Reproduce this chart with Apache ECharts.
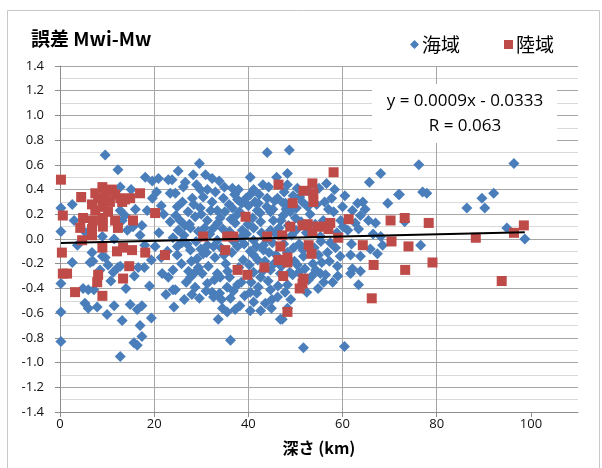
<!DOCTYPE html>
<html>
<head>
<meta charset="utf-8">
<script src="https://cdn.jsdelivr.net/npm/echarts@6/dist/echarts.min.js"></script>
<style>
  html, body { margin: 0; padding: 0; background: #fff; }
  #chart { width: 602px; height: 468px; }
</style>
</head>
<body>
<div id="chart"></div>
<script>
// Depth (km) vs. magnitude error Mwi - Mw, split by offshore (海域) and inland (陸域) events
const seaPoints = [
  [0.2,0.25],[0.2,0.06],[0.2,-0.36],[0.2,-0.59],[0.2,-0.83],
  [2.6,0.28],[3.7,-0.05],[6.8,-0.11],[9,0.02],[9.6,0.68],[12.3,0.56],[12.8,0.42],[15.1,0.40],
  [12.8,0.23],[13.8,0.19],[13.2,0.15],[17.4,0.11],[14.3,0.07],[15.5,0.10],[17,0.03],[18.1,0.50],
  [19.6,0.47],[20.9,0.49],[23,0.48],[23.4,0.37],[19.6,0.33],[18.5,0.23],[23.4,0.14],[20.2,-0.06],
  [22.8,-0.10],[9,-0.14],[2.6,-0.19],[6.4,-0.19],[7,-0.18],[9.6,-0.15],[10.2,-0.21],[11.3,-0.27],
  [12.3,-0.23],[12.8,-0.22],[16.6,-0.23],[17.9,-0.23],[19.4,-0.17],[21.7,-0.28],[23,-0.31],
  [4.9,-0.40],[6,-0.41],[7.2,-0.41],[24,-0.41],[5.3,-0.52],[6,-0.56],[7.9,-0.55],[11.5,-0.54],
  [14.9,-0.53],[16.4,-0.57],[17.4,-0.54],[10,-0.61],[19.4,-0.64],[13.2,-0.66],[17,-0.70],
  [17.4,-0.79],[15.7,-0.84],[16.4,-0.86],[12.8,-0.95],
  [15.8,-0.30],[14,-0.40],[10.8,-0.34],[8.5,-0.25],[5.5,0.05],[3,0.15],[11.5,0.00],[16,0.24],
  [21.5,0.27],[24.2,-0.55],[21,0.05],[22,0.20],[21.5,-0.15],[20.5,0.38],[22.5,-0.45],[19,-0.38],[18,-0.05],
  [44,0.70],[29.6,0.61],[25.1,0.55],[23.8,0.48],[28.3,0.52],[30.9,0.52],[26.6,0.46],[26.2,0.42],
  [32.3,0.49],[33.8,0.47],[40.4,0.50],[46,0.50],[48.3,0.53],[29.8,0.40],[31.3,0.40],[36.6,0.41],
  [37.9,0.40],[41.1,0.40],[44.3,0.42],[24.5,0.37],[28.1,0.33],[30.4,0.34],[32.3,0.30],[34.7,0.33],
  [37.7,0.32],[40.4,0.36],[42.1,0.29],[46.2,0.33],[47.9,0.29],[24.9,0.26],[27.2,0.22],[29.8,0.25],
  [33.4,0.23],[36.6,0.25],[41.9,0.23],[44.7,0.22],[47.4,0.19],[25.5,0.15],[28.7,0.18],[31.3,0.15],
  [34,0.17],[37.2,0.13],[42.6,0.14],[45.3,0.15],[48.5,0.11],[25.1,0.07],[27.7,0.09],[29.4,0.06],
  [32.6,0.09],[38.7,0.07],[41.1,0.09],[44.7,0.07],[24,0.01],[26.2,-0.01],[33.4,-0.01],[38.3,0.01],
  [41.1,-0.01],[24.9,-0.06],[27.7,-0.09],[31.3,-0.05],[37.7,-0.06],[40.4,-0.10],[43.2,-0.05],
  [48.3,-0.11],[24.9,-0.13],[27,-0.04],[29.1,-0.16],[30.4,-0.12],[32.6,-0.06],[36.5,-0.11],
  [41.1,-0.13],[43.2,-0.09],[24,-0.25],[27.7,-0.31],[28.7,-0.27],[29.4,-0.23],[33.4,-0.28],
  [34,-0.31],[41.1,-0.27],[42.6,-0.31],[44.7,-0.25],[46.8,-0.28],[24.5,-0.41],[28.7,-0.39],
  [31.3,-0.36],[32.3,-0.43],[35.5,-0.39],[37.7,-0.37],[40.4,-0.43],[42.1,-0.39],[44.7,-0.41],
  [46.2,-0.47],[26.4,-0.49],[32.6,-0.47],[36.2,-0.48],[41.1,-0.51],[43.6,-0.52],[34.5,-0.56],
  [35.5,-0.59],[37.2,-0.57],[40.4,-0.58],[42.6,-0.58],[46.8,-0.65],[33.6,-0.65],[36.2,-0.82],
  [26,0.30],[27.5,0.12],[28.9,-0.02],[30,0.20],[31.8,0.04],[32.9,-0.15],[33,0.38],[34.6,0.08],
  [35.2,-0.20],[35.9,0.28],[36.3,0.16],[36.9,-0.02],[38.1,0.22],[38.9,-0.17],[39.5,0.33],[39.6,0.04],
  [40.2,-0.21],[40.9,0.17],[41.7,-0.06],[42.3,0.36],[42.8,0.05],[43.5,-0.18],[43.9,0.26],[44.2,-0.34],
  [45.1,-0.03],[45.6,0.31],[45.9,-0.13],[46.5,0.09],[47,-0.22],[47.6,0.38],[49.2,0.03],[49.8,-0.18],
  [50.2,0.25],[50.8,-0.04],[51.2,0.14],[52,-0.24],[52.3,0.05],[53.1,0.20],[54,-0.07],[54.5,0.28],
  [55.6,-0.19],[55.9,0.15],[56.8,-0.11],[57.7,0.33],[58.8,0.05],[59.5,-0.14],[60.5,0.35],[61.9,-0.04],
  [62.7,0.13],[64.8,0.24],[65.9,-0.08],[66.5,0.04],[25.8,-0.20],[26.8,-0.35],[28,-0.45],[30.2,-0.28],
  [31,-0.42],[33.9,-0.44],[34.8,-0.13],[36,-0.31],[38.5,-0.35],[39.2,-0.46],[41.8,-0.44],[43,-0.26],
  [45,-0.49],[45.4,-0.20],[47.8,-0.43],[49,-0.49],[50.7,-0.27],[53.5,-0.30],[54.8,-0.40],[56,-0.35],
  [24.6,0.19],[25.9,-0.03],[26.5,0.11],[27.9,-0.18],[28.4,0.28],[29,0.44],[29.9,-0.08],[30.7,0.09],
  [31.5,-0.22],[32,0.23],[32.8,-0.33],[33.5,0.13],[34.2,-0.07],[34.9,0.42],[35.6,-0.26],[36,0.06],
  [36.8,-0.42],[37.4,0.19],[38,-0.23],[38.6,0.29],[39.1,-0.04],[39.9,0.12],[40.6,-0.35],[41.4,0.30],
  [42,-0.17],[42.5,0.21],[43.1,0.44],[43.7,0.00],[44.4,-0.11],[45.2,0.24],[45.8,0.04],[46.3,-0.38],
  [46.9,0.15],[47.5,-0.04],[48,0.24],[48.8,-0.27],[49.5,0.35],[50.1,0.07],[50.9,0.34],[51.6,-0.09],
  [52.4,-0.43],[53,0.38],[53.7,-0.20],[54.2,0.12],[55,0.41],[55.4,-0.02],[56.2,0.30],[57.2,-0.18],
  [58.3,0.40],[59,-0.30],[60.1,0.10],[26.3,0.03],[31.1,-0.11],[35,0.22],[37.1,0.36],[40,0.27],
  [44,0.33],[27.3,-0.26],[29.6,-0.48],[38.2,-0.54],[44.9,-0.56],[34.3,-0.49],
  [48.7,0.72],[68.1,0.53],[65.7,0.46],[56.6,0.45],[48.3,0.44],[50.4,0.41],[71.9,0.36],[51.5,0.30],
  [47.4,0.29],[52.6,0.26],[64.3,0.30],[63.2,0.29],[69.6,0.29],[60,0.26],[57,0.24],[58.1,0.22],
  [48.9,0.22],[62.1,0.23],[63.8,0.19],[65.5,0.15],[67,0.13],[59.6,0.15],[50,0.17],[61.1,0.07],
  [63.4,0.08],[55.3,0.02],[68.1,0.02],[57.4,-0.03],[58.5,-0.07],[54.9,-0.13],[61.7,-0.13],
  [63.8,-0.14],[67.4,-0.12],[49.6,-0.07],[68.5,-0.05],[51.7,-0.14],[50.4,-0.21],[58.9,-0.22],
  [62.1,-0.24],[63.8,-0.26],[54.3,-0.25],[55.3,-0.28],[56.4,-0.29],[49.4,-0.29],[57.9,-0.35],
  [52.8,-0.33],[61.7,-0.28],[63.4,-0.37],[48.3,-0.37],[48.3,-0.56],[47.2,-0.65],[51.7,-0.88],
  [60.4,-0.87],
  [76.2,0.60],[96.4,0.61],[72.1,0.36],[77,0.38],[77.9,0.37],[89.6,0.33],[92.1,0.37],[86.4,0.25],
  [90.2,0.25],[73.2,0.14],[94.9,0.09],[98.7,0.00],[76.6,-0.05]
];

const landPoints = [
  [0.2,0.48],[0.6,0.19],[0.4,-0.11],[0.6,-0.28],[1.5,-0.28],[3.2,-0.43],
  [9,0.42],[11,0.40],[7.5,0.37],[17,0.37],[4.5,0.34],[8.1,0.33],[9.6,0.34],[11.7,0.36],[12.8,0.33],
  [14.9,0.33],[6.8,0.28],[9,0.26],[10.6,0.30],[13.2,0.30],[13.8,0.32],[7.5,0.23],[10.2,0.22],
  [20.2,0.21],[4.9,0.17],[7,0.15],[9.1,0.17],[11.7,0.15],[15.5,0.15],[4.3,0.09],[6.8,0.08],
  [9.1,0.10],[12.3,0.09],[6.8,0.03],[4.7,-0.01],[9,-0.07],[12.1,-0.10],[13.4,-0.07],[15.3,-0.09],
  [18.1,-0.11],[22.3,-0.13],[14.7,-0.22],[8.1,-0.29],[7.9,-0.35],[13.4,-0.32],[9,-0.46],
  [46.4,0.44],[39.4,0.18],[30.4,0.02],[35.5,0.02],[36.8,0.02],[44,0.02],[47.2,0.03],[35.1,-0.09],
  [46.8,-0.06],[46.4,-0.17],[48.3,-0.19],[37.7,-0.25],[39.8,-0.29],[43.4,-0.23],[47.4,-0.30],
  [48.3,-0.59],
  [58.1,0.54],[53.6,0.45],[51.7,0.39],[53.8,0.37],[53.8,0.30],[49.4,0.29],[61.3,0.16],[70.2,0.15],
  [56,0.10],[57.4,0.13],[57,0.08],[54.7,0.10],[51.5,0.11],[52.6,0.12],[48.9,0.10],[53.6,0.05],
  [59.1,0.01],[70.4,-0.02],[64.3,-0.05],[52.8,-0.05],[53.4,-0.12],[48.3,-0.15],
  [66.6,-0.21],[51.7,-0.32],[51.5,-0.36],[50.9,-0.40],[66.2,-0.48],
  [73.2,0.17],[78.3,0.13],[98.5,0.11],[96.4,0.05],[88.3,0.01],[74,-0.06],[73.3,-0.25],
  [79.1,-0.19],[93.8,-0.34]
];

// Linear fit over all events
const fitSlope = 0.0009;
const fitIntercept = -0.0333;
const fitR = 0.063;

const xTickValues = [0, 20, 40, 60, 80, 100];

const allX = seaPoints.concat(landPoints).map(p => p[0]);
const fitX0 = Math.min(...allX), fitX1 = Math.max(...allX);
const fitLine = [
  [fitX0, fitSlope * fitX0 + fitIntercept],
  [fitX1, fitSlope * fitX1 + fitIntercept]
];

const SEA = '#4a7ebb', LAND = '#be4b48';
const FONT = '"Open Sans", "Noto Sans CJK JP", sans-serif';
const JP = '"Noto Sans CJK JP", "Open Sans", sans-serif';

const chart = echarts.init(document.getElementById('chart'), null, { renderer: 'canvas' });

chart.setOption({
  animation: false,
  backgroundColor: '#fff',
  grid: { left: 60, right: 24, top: 66, bottom: 56, containLabel: false },
  title: {
    text: '誤差 Mwi-Mw',
    left: 26, top: 24,
    textStyle: { fontFamily: JP, fontSize: 19, fontWeight: 'bold', color: '#000' }
  },
  legend: {
    top: 30, left: 405,
    itemWidth: 9, itemHeight: 9, itemGap: 44,
    textStyle: { fontFamily: JP, fontSize: 19, color: '#000', padding: [0, 0, 0, -2] },
    data: [
      { name: '海域', icon: 'diamond' },
      { name: '陸域', icon: 'rect' }
    ]
  },
  xAxis: {
    type: 'value', min: 0, max: 110, interval: 20,
    name: '深さ (km)', nameLocation: 'middle', nameGap: 28,
    nameTextStyle: { fontFamily: JP, fontSize: 16, fontWeight: 'bold', color: '#000' },
    axisLine: { show: true, onZero: false, lineStyle: { color: '#8c8c8c', width: 1 } },
    axisTick: { show: true, inside: false, length: 5, customValues: xTickValues, lineStyle: { color: '#8c8c8c' } },
    axisLabel: { customValues: xTickValues, margin: 6, fontFamily: FONT, fontSize: 13, color: '#111' },
    splitLine: { show: true, showMinLine: false, showMaxLine: false, lineStyle: { color: '#a6a6a6', width: 1 } }
  },
  yAxis: {
    type: 'value', min: -1.4, max: 1.4, interval: 0.2,
    axisLine: { show: true, lineStyle: { color: '#8c8c8c', width: 1 } },
    axisTick: { show: true, inside: false, length: 5, lineStyle: { color: '#8c8c8c' } },
    axisLabel: {
      margin: 16, fontFamily: FONT, fontSize: 13, color: '#111',
      formatter: v => v.toFixed(1)
    },
    splitLine: { show: true, lineStyle: { color: '#a6a6a6', width: 1 } },
    minorTick: { show: false, splitNumber: 2 },
    minorSplitLine: { show: true, lineStyle: { color: '#d9d9d9', width: 1 } }
  },
  series: [
    {
      name: '海域', type: 'scatter', data: seaPoints,
      symbol: 'diamond', symbolSize: [11, 11],
      itemStyle: { color: SEA, opacity: 1 },
      z: 3
    },
    {
      name: '陸域', type: 'scatter', data: landPoints,
      symbol: 'rect', symbolSize: [10, 10],
      itemStyle: { color: LAND, opacity: 1 },
      z: 4
    },
    {
      name: 'fit', type: 'line', data: fitLine,
      showSymbol: false, symbol: 'none', silent: true,
      lineStyle: { color: '#000', width: 2 },
      z: 5
    }
  ],
  graphic: [
    {
      type: 'rect', left: 5, top: 8, silent: true,
      shape: { width: 592, height: 470 },
      style: { fill: 'none', stroke: '#c8c8c8', lineWidth: 1 }
    },
    {
      type: 'rect', left: 372, top: 84, silent: true, z: 10,
      shape: { width: 185, height: 59 },
      style: { fill: '#fff' }
    },
    {
      type: 'text', x: 465, y: 101, z: 11, silent: true,
      style: {
        text: 'y = ' + fitSlope.toFixed(4) + 'x - ' + Math.abs(fitIntercept).toFixed(4),
        font: '17px ' + FONT, fill: '#000', align: 'center', verticalAlign: 'middle'
      }
    },
    {
      type: 'text', x: 465, y: 126, z: 11, silent: true,
      style: {
        text: 'R = ' + fitR.toFixed(3),
        font: '17px ' + FONT, fill: '#000', align: 'center', verticalAlign: 'middle'
      }
    }
  ]
});
</script>
</body>
</html>
